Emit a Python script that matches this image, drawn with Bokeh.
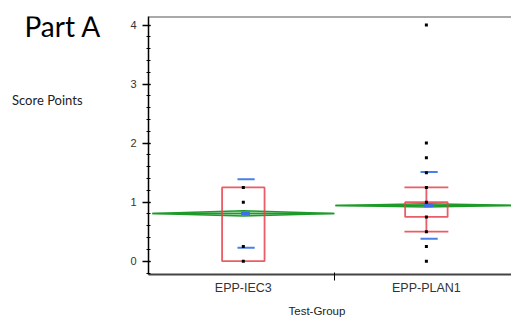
from bokeh.plotting import figure
from bokeh.models import Range1d, FixedTicker, SingleIntervalTicker, Span, Title
from bokeh.layouts import row
from bokeh.core.properties import value
from bokeh.embed import file_html
from bokeh.resources import INLINE

# ---- data ----
categories = ["EPP-IEC3", "EPP-PLAN1"]
iec3_scores = [0.0, 0.25, 1.0, 1.25]
plan1_scores = [0.0, 0.25, 0.5, 0.75, 1.0, 1.25, 1.5, 1.75, 2.0, 4.0]
q1 = [0.0, 0.75]
q3 = [1.25, 1.0]
whisker_low = [0.0, 0.5]
whisker_high = [1.25, 1.25]
means = [0.81, 0.945]
sds = [0.58, 0.565]
ci_half = [0.045, 0.028]
y_ticks = [0, 1, 2, 3, 4]

RED = "#e8414b"
BLUE = "#4a7fe8"
GREEN = "#1f9a2a"

centers = [i + 0.5 for i in range(len(categories))]

# ---- left text panel ----
W_LEFT = 108
H = 323
t = figure(width=W_LEFT, height=H, output_backend="svg", toolbar_location=None,
           x_range=Range1d(0, W_LEFT), y_range=Range1d(0, H),
           x_axis_type=None, y_axis_type=None,
           min_border_left=0, min_border_right=0, min_border_top=0, min_border_bottom=0)
t.outline_line_color = None
t.xgrid.visible = False
t.ygrid.visible = False
t.text(x=[24], y=[H - 12], text=["Part A"], text_font=value("Lato"), text_font_size="28px",
       text_align="left", text_baseline="middle", text_color="black")
t.text(x=[11.5], y=[H - 105], text=["Score Points"], text_font=value("Lato"), text_font_size="13px",
       text_align="left", text_baseline="middle", text_color="#222222")

# ---- main plot ----
p = figure(width=511 - W_LEFT, height=H, output_backend="svg", toolbar_location=None,
           x_range=Range1d(-0.018, 1.965), y_range=Range1d(-0.225, 4.144),
           min_border_left=40, min_border_right=0, min_border_top=16, min_border_bottom=49)
p.outline_line_color = None
p.xgrid.visible = False
p.ygrid.visible = False

# mean diamonds
for c, m, h in zip(centers, means, ci_half):
    p.patch([c - 0.497, c, c + 0.497, c], [m, m + h, m, m - h],
            fill_color=GREEN, fill_alpha=0.35, line_color=GREEN, line_width=1.5)
    p.segment(x0=[c - 0.497], y0=[m], x1=[c + 0.497], y1=[m], line_color=GREEN, line_width=1.5)

# box plots
bw = 0.116
p.quad(left=[c - bw for c in centers], right=[c + bw for c in centers], bottom=q1, top=q3,
       fill_color=None, line_color=RED, line_width=1.8, line_alpha=0.85)
p.segment(x0=centers, y0=whisker_low, x1=centers, y1=q1, line_color=RED, line_width=1.8, line_alpha=0.85)
p.segment(x0=centers, y0=q3, x1=centers, y1=whisker_high, line_color=RED, line_width=1.8, line_alpha=0.85)
cw = 0.12
for c, lo, hi, a, b in zip(centers, whisker_low, whisker_high, q1, q3):
    caps_y = []
    if lo < a:
        caps_y.append(lo)
    if hi > b:
        caps_y.append(hi)
    if caps_y:
        p.segment(x0=[c - cw] * len(caps_y), y0=caps_y, x1=[c + cw] * len(caps_y), y1=caps_y,
                  line_color=RED, line_width=1.8, line_alpha=0.85)

# std dev lines and mean marker
off = 0.015
hw = 0.047
for c, m, s in zip(centers, means, sds):
    p.segment(x0=[c + off - hw] * 2, y0=[m - s, m + s], x1=[c + off + hw] * 2, y1=[m - s, m + s],
              line_color=BLUE, line_width=2)
p.rect(x=[c + 0.012 for c in centers], y=means, width=0.048, height=3.5, height_units="screen",
       fill_color="#3a6fe8", line_color=None)

# points
p.scatter([centers[0]] * len(iec3_scores), iec3_scores, marker="square", size=3,
          fill_color="black", line_color=None)
p.scatter([centers[1]] * len(plan1_scores), plan1_scores, marker="square", size=3,
          fill_color="black", line_color=None)

# top border
p.add_layout(Span(location=4.144, dimension="width", line_color="#555555", line_width=2))

# axes
xa = p.xaxis[0]
xa.ticker = FixedTicker(ticks=centers, minor_ticks=[1.0])
xa.major_label_overrides = {c: n for c, n in zip(centers, categories)}
xa.major_tick_out = 0
xa.major_tick_in = 0
xa.minor_tick_out = 6
xa.minor_tick_in = 2
xa.minor_tick_line_color = "black"
xa.axis_line_color = "#444444"
xa.axis_line_width = 2
xa.major_label_text_font = "Liberation Sans"
xa.major_label_text_font_size = "12.5px"
xa.major_label_text_color = "#333333"
xa.major_label_standoff = 0

ya = p.yaxis[0]
ya.ticker = SingleIntervalTicker(interval=1, num_minor_ticks=5)
ya.major_tick_out = 6
ya.major_tick_in = 2
ya.minor_tick_out = 2
ya.minor_tick_in = 2
ya.major_tick_line_color = "black"
ya.minor_tick_line_color = "black"
ya.major_tick_line_width = 1.5
ya.minor_tick_line_width = 1.2
ya.axis_line_color = "black"
ya.axis_line_width = 1.5
ya.major_label_text_font = "Liberation Sans"
ya.major_label_text_font_size = "11px"
ya.major_label_text_color = "#333333"
ya.major_label_standoff = 6

p.add_layout(Title(text="Test-Group", align="left", offset=140, text_font="Liberation Sans",
                   text_font_size="11.5px", text_font_style="normal", text_color="#222222",
                   standoff=10), "below")

layout = row(t, p, spacing=0)
open("out.html", "w").write(file_html(layout, INLINE))
